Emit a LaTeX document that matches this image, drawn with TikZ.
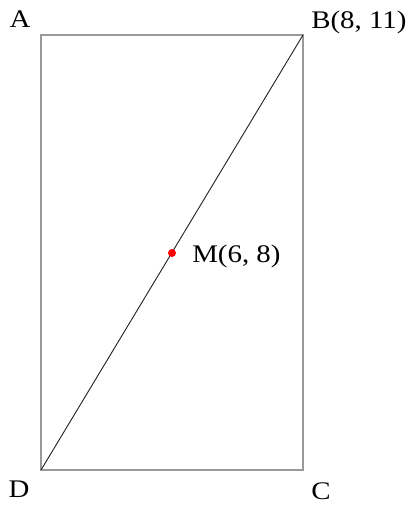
\documentclass[tikz,border=0pt]{standalone}
\usepackage{fontspec}
\setmainfont{Liberation Serif}
\begin{document}
\begin{tikzpicture}[x=0.75pt,y=-0.75pt,
  side/.style={draw=gray!80, line width=1.3pt},
  diag/.style={draw=black!85, line width=0.7pt},
  lbl/.style={font=\fontsize{19}{21}\selectfont, inner sep=0pt, xscale=1.14}]
\useasboundingbox (0,0) rectangle (410,510);
\coordinate (A) at (41,35);
\coordinate (B) at (303,35);
\coordinate (C) at (303,470);
\coordinate (D) at (41,470);
\coordinate (M) at (172,253);
\draw[side] (A) -- (B) -- (C) -- (D) -- cycle;
\draw[diag] (D) -- (B);
\fill[red] (M) circle (4);
\node[lbl] (la) at (20,19) {A};
\node[lbl, anchor=west] (lb) at (311,22) {B(8, 11)};
\node[lbl, anchor=west] (lm) at (192,256) {M(6, 8)};
\node[lbl] (ld) at (19,489) {D};
\node[lbl] (lc) at (321,491) {C};
\end{tikzpicture}
\end{document}
